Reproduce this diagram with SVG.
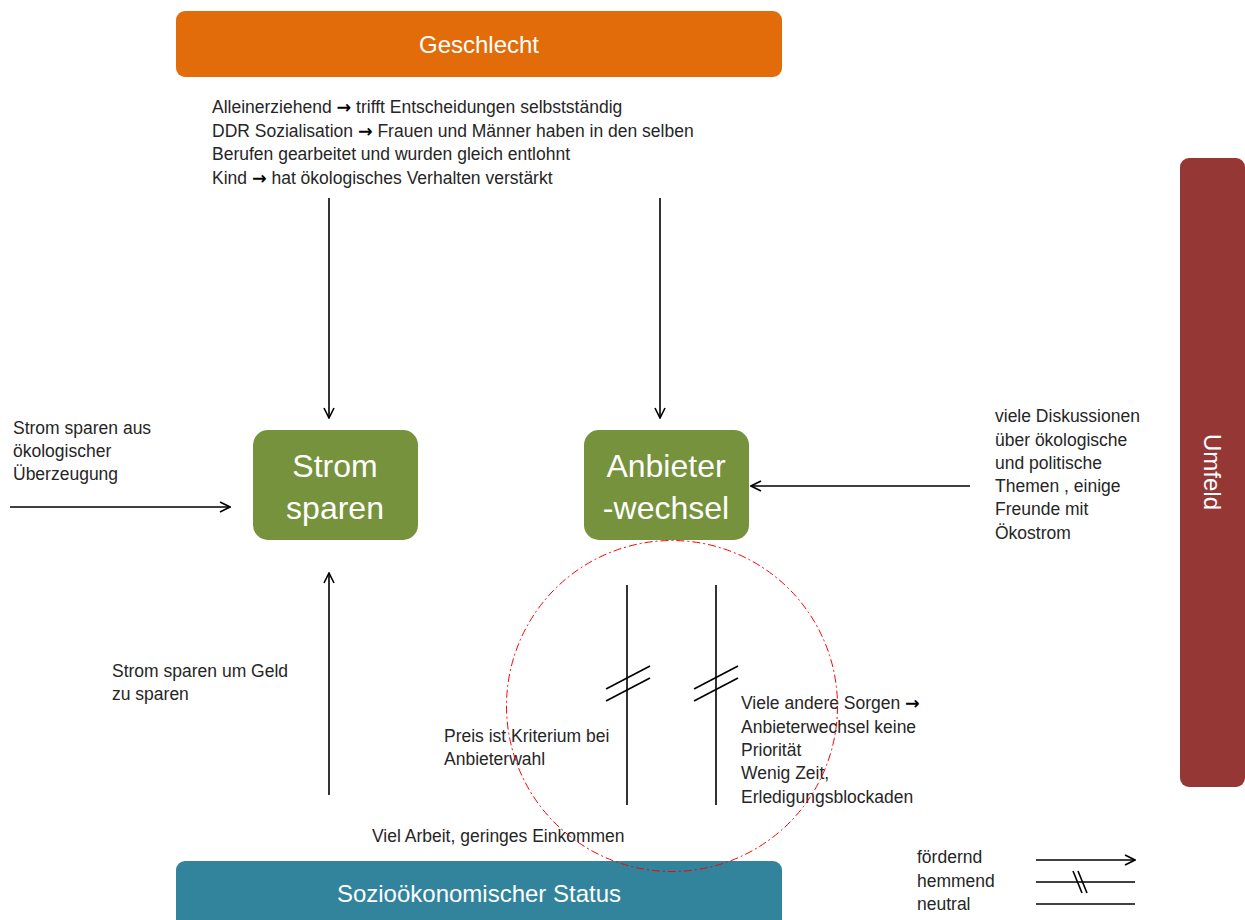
<svg xmlns="http://www.w3.org/2000/svg" width="1245" height="920" viewBox="0 0 1245 920">
<style>
.t{font-family:"Liberation Sans",Arial,sans-serif;font-size:17.5px;fill:#262626}
.a{font-family:"DejaVu Sans",sans-serif;font-weight:bold;fill:#000}
.h{font-family:"Liberation Sans",Arial,sans-serif;font-size:24px;fill:#fff;text-anchor:middle}
.g{font-family:"Liberation Sans",Arial,sans-serif;font-size:32px;fill:#fff;text-anchor:middle}
.ln{stroke:#000;stroke-width:1.6;fill:none}
</style>
<defs>
<marker id="ah" viewBox="0 0 12 12" refX="11" refY="6" markerWidth="12" markerHeight="12" markerUnits="userSpaceOnUse" orient="auto">
<polyline points="1,1 11,6 1,11" fill="none" stroke="#000" stroke-width="1.6"/>
</marker>
</defs>
<rect width="1245" height="920" fill="#fff"/>
<g id="geschlecht">
<rect x="176" y="11" width="606" height="66" rx="9" fill="#E36C0A"/>
<text class="h" x="479" y="53">Geschlecht</text>
</g>
<g id="geschlecht-text">
<text class="t" x="212" y="113">Alleinerziehend <tspan class="a">→</tspan> trifft Entscheidungen selbstständig</text>
<text class="t" x="212" y="137">DDR Sozialisation <tspan class="a">→</tspan> Frauen und Männer haben in den selben</text>
<text class="t" x="212" y="160">Berufen gearbeitet und wurden gleich entlohnt</text>
<text class="t" x="212" y="184">Kind <tspan class="a">→</tspan> hat ökologisches Verhalten verstärkt</text>
</g>
<g id="strom">
<rect x="253" y="430" width="165" height="110" rx="15" fill="#76923C"/>
<text class="g" x="335" y="477">Strom</text>
<text class="g" x="335" y="519">sparen</text>
</g>
<g id="anbieter">
<rect x="584" y="430" width="165" height="110" rx="15" fill="#76923C"/>
<text class="g" x="666" y="477">Anbieter</text>
<text class="g" x="666" y="519">-wechsel</text>
</g>
<g id="umfeld">
<rect x="1180" y="158" width="65" height="629" rx="9" fill="#953735"/>
<text class="h" transform="translate(1212 472) rotate(90)" x="0" y="8">Umfeld</text>
</g>
<g id="status">
<rect x="176" y="861" width="606" height="70" rx="9" fill="#31849B"/>
<text class="h" x="479" y="902">Sozioökonomischer Status</text>
</g>
<g id="labels">
<text class="t" x="13" y="434">Strom sparen aus</text>
<text class="t" x="13" y="457">ökologischer</text>
<text class="t" x="13" y="480">Überzeugung</text>
<text class="t" x="995" y="422">viele Diskussionen</text>
<text class="t" x="995" y="446">über ökologische</text>
<text class="t" x="995" y="469">und politische</text>
<text class="t" x="995" y="492">Themen , einige</text>
<text class="t" x="995" y="515">Freunde mit</text>
<text class="t" x="995" y="539">Ökostrom</text>
<text class="t" x="112" y="677">Strom sparen um Geld</text>
<text class="t" x="112" y="700">zu sparen</text>
<text class="t" x="444" y="742">Preis ist Kriterium bei</text>
<text class="t" x="444" y="765">Anbieterwahl</text>
<text class="t" x="741" y="709">Viele andere Sorgen <tspan class="a">→</tspan></text>
<text class="t" x="741" y="733">Anbieterwechsel keine</text>
<text class="t" x="741" y="756">Priorität</text>
<text class="t" x="741" y="779">Wenig Zeit,</text>
<text class="t" x="741" y="803">Erledigungsblockaden</text>
<text class="t" x="372" y="842">Viel Arbeit, geringes Einkommen</text>
</g>
<g id="connectors">
<line class="ln" x1="329" y1="198" x2="329" y2="418" marker-end="url(#ah)"/>
<line class="ln" x1="660" y1="198" x2="660" y2="418" marker-end="url(#ah)"/>
<line class="ln" x1="10" y1="507" x2="230" y2="507" marker-end="url(#ah)"/>
<line class="ln" x1="970" y1="486" x2="751" y2="486" marker-end="url(#ah)"/>
<line class="ln" x1="329" y1="795" x2="329" y2="573" marker-end="url(#ah)"/>
<line class="ln" x1="627" y1="585" x2="627" y2="805"/>
<line class="ln" x1="606" y1="689" x2="650" y2="666"/>
<line class="ln" x1="606" y1="701" x2="650" y2="678"/>
<line class="ln" x1="716" y1="585" x2="716" y2="805"/>
<line class="ln" x1="694" y1="689" x2="738" y2="666"/>
<line class="ln" x1="694" y1="701" x2="738" y2="678"/>
</g>
<circle id="highlight" cx="672" cy="706" r="165.5" fill="none" stroke="#FF0000" stroke-width="1" stroke-dasharray="8 3 2 3"/>
<g id="legend">
<text class="t" x="917" y="863">fördernd</text>
<text class="t" x="917" y="887">hemmend</text>
<text class="t" x="917" y="910">neutral</text>
<line class="ln" x1="1036" y1="860" x2="1135" y2="860" marker-end="url(#ah)"/>
<line class="ln" x1="1036" y1="882" x2="1135" y2="882"/>
<line class="ln" x1="1073" y1="871" x2="1082" y2="893"/>
<line class="ln" x1="1078" y1="871" x2="1087" y2="893"/>
<line class="ln" x1="1036" y1="904" x2="1135" y2="904"/>
</g>
</svg>
